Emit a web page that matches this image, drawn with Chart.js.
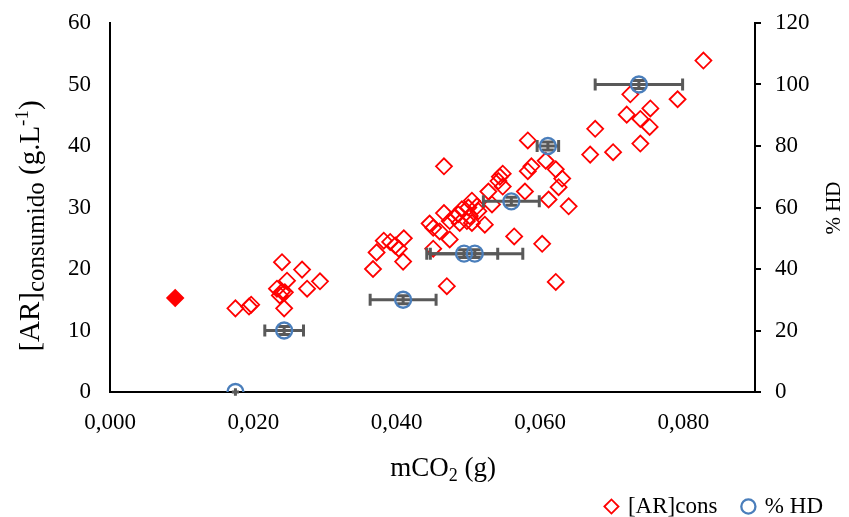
<!DOCTYPE html>
<html><head><meta charset="utf-8">
<script src="https://cdn.jsdelivr.net/npm/chart.js@4.4.1/dist/chart.umd.min.js"></script>
<style>html,body{margin:0;padding:0;background:#fff}#wrap{width:849px;height:517px}</style>
</head><body><div id="wrap"><canvas id="c" width="849" height="517"></canvas></div>
<script>
// ---- data ----
const arX = [0.0175,0.0194,0.0197,0.0240,0.0268,0.0293,0.0275,0.0247,0.0233,0.0240,0.0244,0.0237,0.0243,
  0.0367,0.0372,0.0382,0.0391,0.0398,0.0403,0.0410,0.0409,0.0451,0.0470,
  0.0446,0.0451,0.0460,0.0474,0.0466,0.0481,0.0486,0.0491,0.0500,0.0505,0.0512,0.0514,0.0502,0.0498,0.0505,0.0488,0.0474,0.0523,
  0.0528,0.0533,0.0542,0.0544,0.0548,0.0548,0.0466,0.0564,0.0579,0.0583,0.0588,0.0583,0.0603,0.0612,0.0608,0.0622,0.0631,0.0626,0.0640,0.0622,
  0.0670,0.0677,0.0702,0.0721,0.0726,0.0740,0.0753,0.0754,0.0740,0.0792,0.0828];
const arY = [13.6,13.9,14.2,21.1,19.9,18.0,16.8,18.1,16.8,16.3,16.2,15.7,13.6,
  20.0,22.7,24.6,24.4,23.8,23.3,25.0,21.2,23.3,17.2,
  27.4,26.7,26.1,24.8,29.1,28.5,28.9,29.7,30.0,31.1,30.2,29.4,28.6,27.8,27.5,27.5,27.8,27.2,
  32.6,30.5,34.3,35.0,35.5,33.4,36.7,25.3,32.6,35.9,36.7,40.9,24.1,31.3,37.6,36.2,34.7,33.3,30.2,17.9,
  38.6,42.8,39.0,45.1,48.4,44.4,43.1,46.1,40.4,47.6,53.9];
const arFilledX = [0.0091];
const arFilledY = [15.3];
const hdX = [0.0175,0.0243,0.0409,0.0494,0.0509,0.0560,0.0611,0.0738];
const hdY = [0,20,30,45,45,62,80,100];
const hdXErr = [0.0005,0.0027,0.0046,0.0047,0.0067,0.0039,0.0015,0.0061];
const hdYErr = [1.2,1.3,1.3,1.3,1.3,1.3,1.3,1.3];
const xTicks = [0,0.02,0.04,0.06,0.08];
const yLeftTicks = [0,10,20,30,40,50,60];
const yRightTicks = [0,20,40,60,80,100,120];
const seriesNames = ['[AR]cons','% HD'];

const FONT = '"Liberation Serif","Times New Roman",serif';
const toPts = (xs, ys) => xs.map((v,i)=>({x:v,y:ys[i]}));

const errorBars = {
  id:'errorBars',
  beforeDatasetDraw(chart, args){
    if (args.index !== 2) return;
    const ctx = chart.ctx, xs = chart.scales.x, ys = chart.scales.y2;
    ctx.save();
    ctx.strokeStyle = '#595959'; ctx.lineWidth = 3; ctx.lineCap = 'butt';
    hdX.forEach((xv,i)=>{
      const cx = xs.getPixelForValue(xv), cy = ys.getPixelForValue(hdY[i]);
      const x0 = xs.getPixelForValue(xv-hdXErr[i]), x1 = xs.getPixelForValue(xv+hdXErr[i]);
      const ya = ys.getPixelForValue(hdY[i]+hdYErr[i]), yb = ys.getPixelForValue(hdY[i]-hdYErr[i]);
      const caps = (x1-cx) > 5;
      ctx.beginPath();
      ctx.moveTo(x0,cy); ctx.lineTo(x1,cy);
      ctx.moveTo(cx,ya); ctx.lineTo(cx,yb);
      if (caps){
        ctx.moveTo(x0,cy-6); ctx.lineTo(x0,cy+6);
        ctx.moveTo(x1,cy-6); ctx.lineTo(x1,cy+6);
        ctx.moveTo(cx-6,ya); ctx.lineTo(cx+6,ya);
        ctx.moveTo(cx-6,yb); ctx.lineTo(cx+6,yb);
      }
      ctx.stroke();
    });
    ctx.restore();
  }
};

function drawRich(ctx, parts, cx, by){
  let total = 0;
  parts.forEach(p=>{ ctx.font = p.s+'px '+FONT; p.w = ctx.measureText(p.t).width; total += p.w; });
  let x = cx - total/2;
  parts.forEach(p=>{ ctx.font = p.s+'px '+FONT; ctx.fillText(p.t, x, by + p.dy); x += p.w; });
}

const titles = {
  id:'titles',
  afterDraw(chart){
    const ctx = chart.ctx;
    ctx.save();
    ctx.fillStyle = '#000'; ctx.textBaseline = 'alphabetic'; ctx.textAlign = 'left';
    drawRich(ctx, [{t:'mCO',s:27,dy:0},{t:'2',s:18,dy:5},{t:' (g)',s:27,dy:0}], 443, 476);
    ctx.save();
    ctx.translate(39, 226); ctx.rotate(-Math.PI/2);
    drawRich(ctx, [{t:'[AR]',s:29,dy:0},{t:'consumido',s:25,dy:5},{t:' (g.L',s:29,dy:0},{t:'-1',s:19,dy:-11},{t:')',s:29,dy:0}], 0, 0);
    ctx.restore();
    ctx.save();
    ctx.translate(840, 208); ctx.rotate(-Math.PI/2);
    drawRich(ctx, [{t:'% HD',s:21,dy:0}], 0, 0);
    ctx.restore();
    ctx.restore();
  }
};

const legendShift = {
  id:'legendShift',
  afterLayout(chart){ const l = chart.legend; if (l){ l.top += 11; l.bottom += 11; } }
};

const tickFont = {family:FONT, size:23};
const trimPad = s => { s.paddingTop = 8; s.paddingBottom = 8; };

new Chart(document.getElementById('c'), {
  type:'scatter',
  data:{ datasets:[
    {label:seriesNames[0], data:toPts(arX,arY), pointStyle:'rectRot', pointRadius:8, borderColor:'#FF0000', backgroundColor:'rgba(255,255,255,0)', borderWidth:1.8, order:2},
    {label:'filled', data:toPts(arFilledX,arFilledY), pointStyle:'rectRot', pointRadius:8, borderColor:'#FF0000', backgroundColor:'#FF0000', borderWidth:1.8, order:1},
    {label:seriesNames[1], data:toPts(hdX,hdY), yAxisID:'y2', pointStyle:'circle', pointRadius:8, borderColor:'#4A7EBB', backgroundColor:'rgba(255,255,255,0)', borderWidth:2.3, order:0}
  ]},
  options:{
    responsive:false, animation:false, devicePixelRatio:1, events:[],
    layout:{padding:{top:23,left:0,right:0,bottom:0}},
    plugins:{
      tooltip:{enabled:false}, title:{display:false},
      legend:{display:true, position:'bottom', align:'end',
        labels:{usePointStyle:true, boxWidth:10, boxHeight:10, padding:26, color:'#000', font:{family:FONT,size:23},
          filter:(item)=>item.text!=='filled', sort:(a,b)=>a.datasetIndex-b.datasetIndex}}
    },
    scales:{
      x:{type:'linear', position:'bottom', min:0, max:0.09,
        afterBuildTicks:s=>{ s.ticks = xTicks.map(v=>({value:v})); },
        afterFit:s=>{ s.height = 66; },
        grid:{display:false, drawTicks:false}, border:{display:true,color:'#000',width:2},
        ticks:{padding:17, color:'#000', font:tickFont, maxRotation:0, autoSkip:false, callback:v=>Number(v).toFixed(3).replace('.',',')}},
      y:{type:'linear', position:'left', min:0, max:60,
        afterBuildTicks:s=>{ s.ticks = yLeftTicks.map(v=>({value:v})); },
        afterFit:s=>{ s.width = 110; trimPad(s); },
        grid:{display:false, drawTicks:false}, border:{display:true,color:'#000',width:2},
        ticks:{padding:19, color:'#000', font:tickFont}},
      y2:{type:'linear', position:'right', min:0, max:120,
        afterBuildTicks:s=>{ s.ticks = yRightTicks.map(v=>({value:v})); },
        afterFit:s=>{ s.width = 94; trimPad(s); },
        grid:{display:true, drawOnChartArea:false, drawTicks:true, tickLength:6, color:'#000', lineWidth:2},
        border:{display:true,color:'#000',width:2},
        ticks:{padding:14, color:'#000', font:tickFont}}
    }
  },
  plugins:[errorBars, titles, legendShift]
});
</script></body></html>
